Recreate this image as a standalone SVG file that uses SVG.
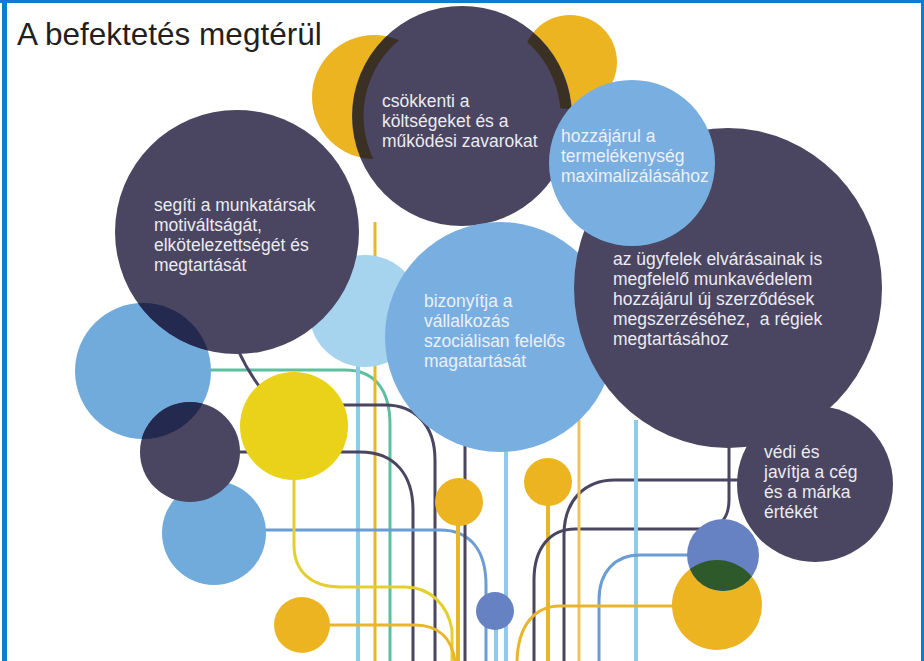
<svg xmlns="http://www.w3.org/2000/svg" width="924" height="661" viewBox="0 0 924 661">
<style>
.ln{fill:none;stroke-width:3;stroke-linecap:butt}
.dk{stroke:#4a4560}
.lb{stroke:#8ecbea;stroke-width:4}
.gd{stroke:#e9b52a}
.tl{stroke:#5cbf9f}
.bl{stroke:#6b9dd4}
.yl{stroke:#e3cf2e}
.navy{fill:#4a4560}
.blue{fill:#79aee0}
.lblue{fill:#70abdc}
.sky{fill:#a6d3ee}
.gold{fill:#edb422}
.yel{fill:#ebd21a}
.vio{fill:#6682c3}
.t{font-family:"Liberation Sans",Arial,sans-serif;font-size:17.5px;fill:#ebebf1}
.tb{fill:#eaf1f9}
</style>
<defs>
<clipPath id="cYel"><circle cx="374" cy="97" r="62"/><circle cx="570" cy="62" r="47"/></clipPath>
<clipPath id="cBlueL"><circle cx="143" cy="371" r="68"/></clipPath>
<clipPath id="cGoldB"><circle cx="717" cy="605" r="45"/></clipPath>
</defs>
<rect width="924" height="661" fill="#ffffff"/>
<rect x="2" y="0" width="5" height="661" fill="#0f7dcd"/>
<rect x="0" y="0" width="924" height="3" fill="#0f7dcd"/>
<rect x="921" y="0" width="3" height="661" fill="#0f7dcd"/>
<text x="17" y="45" font-family="'Liberation Sans',Arial,sans-serif" font-size="31.5" fill="#231f20">A befektetés megtérül</text>
<g id="connectors">
<path class="ln tl" d="M205,370 H345 C375,370 390,390 390,425 V661"/>
<path class="ln lb" d="M358,330 V661"/>
<path class="ln gd" d="M375,222 V661"/>
<path class="ln dk" d="M340,405 H385 C415,405 435,425 435,460 V661"/>
<path class="ln dk" d="M230,452 H360 C395,452 413,475 413,510 V661"/>
<path class="ln dk" d="M238,350 Q248,372 262,390"/>
<path class="ln bl" d="M260,530 H440 C470,530 486,550 486,585 V661"/>
<path class="ln yl" d="M294,470 V545 C294,572 312,587 340,587 H405 C430,587 448,605 452,630 V661"/>
<path class="ln gd" d="M300,625 H415 C440,625 452,640 455,661"/>
<path class="ln dk" d="M465,440 V661"/>
<path class="ln gd" style="stroke-width:4" d="M458,500 V661"/>
<path class="ln lb" d="M506,440 V661"/>
<path class="ln lb" d="M496,611 V661"/>
<path class="ln gd" style="stroke-width:4" d="M548,482 V661"/>
<path class="ln dk" d="M740,480 H615 C585,480 564,500 564,535 V661"/>
<path class="ln dk" d="M729,430 V500 C729,518 720,529 700,529 H575 C550,529 534,548 534,580 V661"/>
<path class="ln gd" style="stroke:#efc45a" d="M579,420 V661"/>
<path class="ln lb" d="M636,420 V661"/>
<path class="ln bl" d="M690,555 H640 C615,555 599,572 599,600 V661"/>
<path class="ln gd" d="M675,606 H560 C535,606 518,625 517,661"/>
</g>
<g id="deco-yellow-top">
<circle class="gold" cx="374" cy="97" r="62"/>
<circle class="gold" cx="570" cy="62" r="47"/>
</g>
<g id="node-koltsegek">
<circle class="navy" cx="462" cy="116" r="110"/>
<circle cx="462" cy="116" r="104" fill="none" stroke="#3a3024" stroke-width="11" clip-path="url(#cYel)"/>
<text class="t" x="382" y="107">csökkenti a</text>
<text class="t" x="382" y="127">költségeket és a</text>
<text class="t" x="382" y="147">működési zavarokat</text>
</g>
<g id="deco-sky">
<circle class="sky" cx="365" cy="311" r="56"/>
</g>
<g id="node-bizonyitja">
<circle class="blue" cx="500" cy="337" r="115"/>
<text class="t tb" x="424" y="307">bizonyítja a</text>
<text class="t tb" x="424" y="327">vállalkozás</text>
<text class="t tb" x="424" y="347">szociálisan felelős</text>
<text class="t tb" x="424" y="367">magatartását</text>
</g>
<g id="node-vedi">
<circle class="navy" cx="815" cy="484" r="78"/>
<text class="t" x="764" y="458">védi és</text>
<text class="t" x="764" y="478">javítja a cég</text>
<text class="t" x="764" y="498">és a márka</text>
<text class="t" x="764" y="518">értékét</text>
</g>
<g id="node-ugyfelek">
<ellipse class="navy" cx="728" cy="288" rx="154" ry="160"/>
<text class="t" x="613" y="265">az ügyfelek elvárásainak is</text>
<text class="t" x="613" y="285">megfelelő munkavédelem</text>
<text class="t" x="613" y="305">hozzájárul új szerződések</text>
<text class="t" x="613" y="325" xml:space="preserve">megszerzéséhez,  a régiek</text>
<text class="t" x="613" y="345">megtartásához</text>
</g>
<g id="node-termelekenyseg">
<circle class="blue" cx="632" cy="163" r="83"/>
<text class="t tb" x="561" y="142">hozzájárul a</text>
<text class="t tb" x="561" y="162">termelékenység</text>
<text class="t tb" x="561" y="182">maximalizálásához</text>
</g>
<g id="deco-left">
<circle class="lblue" cx="143" cy="371" r="68"/>
<circle class="lblue" cx="214" cy="533" r="52"/>
<circle class="navy" cx="190" cy="452" r="50"/>
<circle cx="190" cy="452" r="50" fill="#24294f" clip-path="url(#cBlueL)"/>
</g>
<g id="node-segiti">
<circle class="navy" cx="237" cy="232" r="122"/>
<circle cx="237" cy="232" r="122" fill="#24294f" clip-path="url(#cBlueL)"/>
<text class="t" x="154" y="211">segíti a munkatársak</text>
<text class="t" x="154" y="231">motiváltságát,</text>
<text class="t" x="154" y="251">elkötelezettségét és</text>
<text class="t" x="154" y="271">megtartását</text>
</g>
<g id="deco-dots">
<circle class="yel" cx="294" cy="426" r="54"/>
<circle class="gold" cx="302" cy="625" r="28"/>
<circle class="gold" cx="459" cy="502" r="24"/>
<circle class="gold" cx="548" cy="482" r="24"/>
<circle class="vio" cx="495" cy="611" r="19"/>
<circle class="gold" cx="717" cy="605" r="45"/>
<circle class="vio" cx="723" cy="555" r="36"/>
<circle cx="723" cy="555" r="36" fill="#2e5a2b" clip-path="url(#cGoldB)"/>
</g>
</svg>
